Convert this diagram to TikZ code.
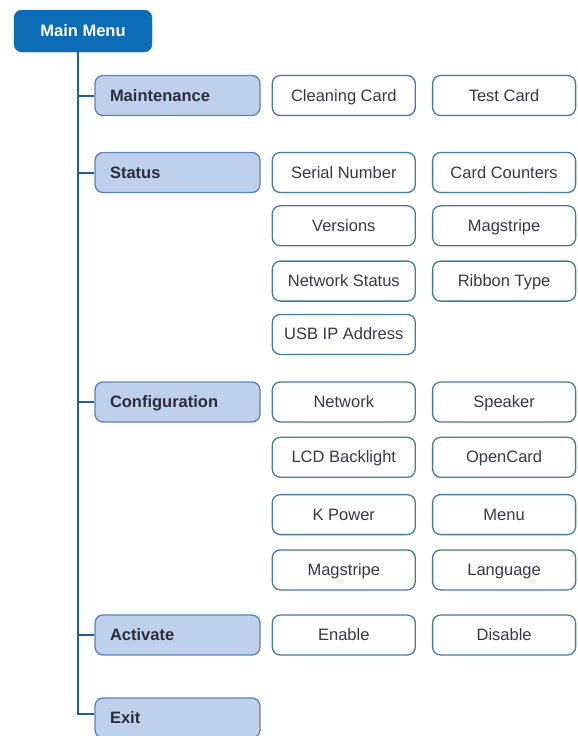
\documentclass[tikz,border=0pt]{standalone}
\usepackage{fontspec}
\setmainfont{Liberation Sans}
\usetikzlibrary{positioning}

\definecolor{menublue}{RGB}{12,108,182}
\definecolor{groupfill}{RGB}{190,208,235}
\definecolor{groupline}{RGB}{92,132,176}
\definecolor{itemline}{RGB}{66,124,160}
\definecolor{spineblue}{RGB}{28,98,148}
\definecolor{darktext}{RGB}{45,45,60}

\begin{document}
\begin{tikzpicture}[x=1pt,y=-1pt,node distance=12pt,
                    font=\fontsize{16.5}{19}\selectfont]
  \tikzstyle{rootbox}=[fill=menublue,draw=menublue,text=white,font=\fontsize{16.5}{19}\selectfont\bfseries,
                       rounded corners=8pt,minimum width=138pt,minimum height=42pt,
                       text height=12pt,text depth=1pt]
  \tikzstyle{groupbox}=[fill=groupfill,draw=groupline,line width=1.3pt,text=darktext,
                        font=\fontsize{16.5}{19}\selectfont\bfseries,rounded corners=8pt,
                        text width=135pt,align=left,inner xsep=15pt,minimum height=40pt,
                        text height=12pt,text depth=1pt]
  \tikzstyle{itembox}=[fill=white,draw=itemline,line width=1.3pt,text=darktext!85!gray,
                       rounded corners=8pt,minimum width=143pt,minimum height=40pt,
                       text height=12pt,text depth=1pt]
  \tikzstyle{branch}=[draw=spineblue,line width=2pt]

  \useasboundingbox (0,0) rectangle (578,736);

  \node[rootbox]  (main) at (83,31)      {Main Menu};
  \node[groupbox] (mnt)  at (177.5,95.5) {Maintenance};
  \node[groupbox] (st)   at (177.5,172.5) {Status};
  \node[groupbox] (cfg)  at (177.5,402)  {Configuration};
  \node[groupbox] (act)  at (177.5,635)  {Activate};
  \node[groupbox] (ex)   at (177.5,718)  {Exit};

  % Maintenance
  \node[itembox] (clean)    [right=11pt of mnt]      {Cleaning Card};
  \node[itembox] (test)     [right=16pt of clean]    {Test Card};
  % Status
  \node[itembox] (serial)   [right=11pt of st]       {Serial Number};
  \node[itembox] (counters) [right=16pt of serial]   {Card Counters};
  \node[itembox] (ver)      [below=12pt of serial]   {Versions};
  \node[itembox] (magst)    [below=12pt of counters] {Magstripe};
  \node[itembox] (netst)    [below=14pt of ver]      {Network Status};
  \node[itembox] (ribbon)   [below=14pt of magst]    {Ribbon Type};
  \node[itembox] (usb)      [below=12pt of netst]    {USB IP Address};
  % Configuration
  \node[itembox] (net)      [right=11pt of cfg]      {Network};
  \node[itembox] (spk)      [right=16pt of net]      {Speaker};
  \node[itembox] (lcd)      [below=14pt of net]      {LCD Backlight};
  \node[itembox] (open)     [below=14pt of spk]      {OpenCard};
  \node[itembox] (kpow)     [below=16pt of lcd]      {K Power};
  \node[itembox] (menu)     [below=16pt of open]     {Menu};
  \node[itembox] (magcf)    [below=14pt of kpow]     {Magstripe};
  \node[itembox] (lang)     [below=14pt of menu]     {Language};
  % Activate
  \node[itembox] (enable)   [right=11pt of act]      {Enable};
  \node[itembox] (disable)  [right=16pt of enable]   {Disable};

  \coordinate (spine) at ([xshift=-5pt]main.south);
  \draw[branch] (spine) |- ([yshift=4pt]ex.west);
  \foreach \g in {mnt,st,cfg,act}
    \draw[branch] (spine |- \g.west) -- (\g.west);
\end{tikzpicture}
\end{document}
